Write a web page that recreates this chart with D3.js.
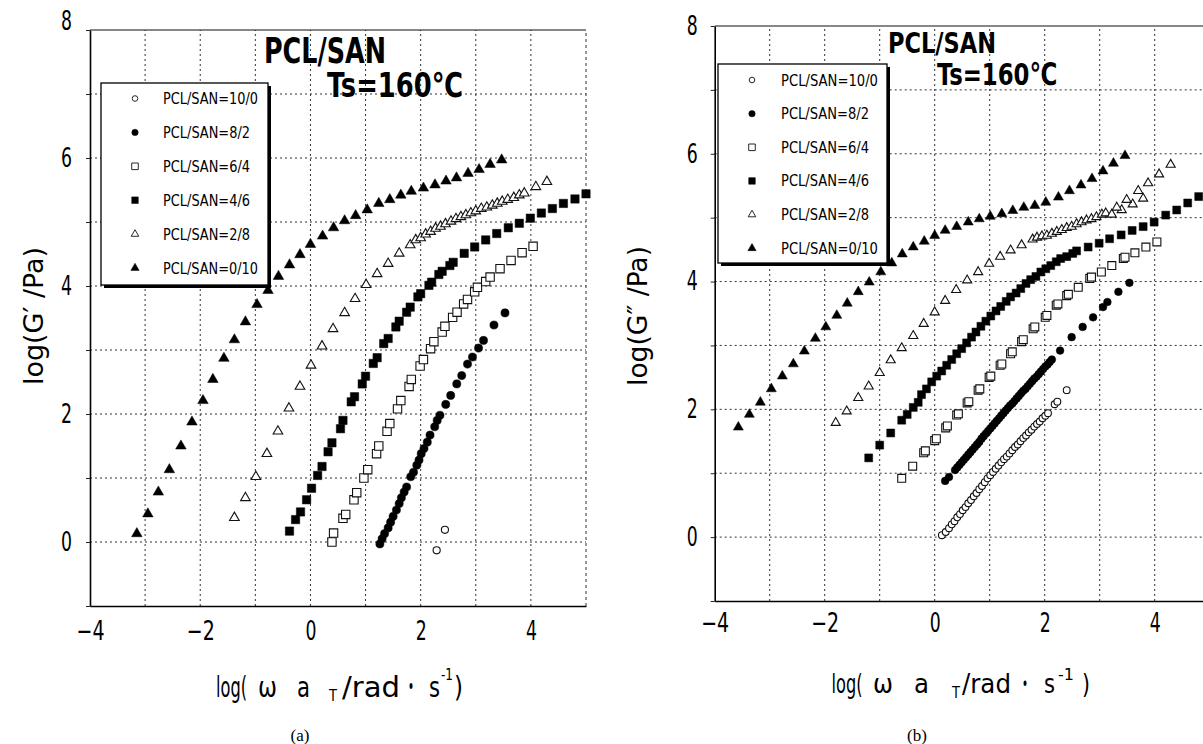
<!DOCTYPE html>
<html>
<head>
<meta charset="utf-8">
<script src="https://cdnjs.cloudflare.com/ajax/libs/d3/7.8.5/d3.min.js"></script>
<style>
  body { margin: 0; background: #fff; }
  svg { display: block; }
</style>
</head>
<body>
<div id="chart"></div>
<script>

const WIDTH = 1203;
const HEIGHT = 744;

const FONT = "'Liberation Sans Narrow', 'DejaVu Sans Condensed', 'Liberation Sans', Arial, sans-serif";

// Legend / series names, same order in both panels.
const legendLabels = ["PCL/SAN=10/0", "PCL/SAN=8/2", "PCL/SAN=6/4",
                      "PCL/SAN=4/6", "PCL/SAN=2/8", "PCL/SAN=0/10"];
const markerKinds = ["circle", "circle", "square", "square", "triangle", "triangle"];
const markerFilled = [false, true, false, true, false, true];

const xTickValues = [-4, -2, 0, 2, 4];
const yTickValues = [0, 2, 4, 6, 8];

// (a) log G' vs log(w aT)
const gp_10_0 = [[2.29, -0.13], [2.44, 0.19]];
const gp_8_2 = [[1.26, -0.03], [1.30, 0.05], [1.345, 0.13], [1.41, 0.22], [1.455, 0.31], [1.50, 0.40],
  [1.56, 0.50], [1.61, 0.60], [1.65, 0.69], [1.70, 0.78], [1.745, 0.86], [1.82, 1.02], [1.87, 1.09],
  [1.93, 1.20], [1.97, 1.28], [2.01, 1.38], [2.06, 1.46], [2.12, 1.56], [2.17, 1.67], [2.255, 1.80],
  [2.30, 1.90], [2.35, 1.98], [2.455, 2.15], [2.545, 2.29], [2.655, 2.47], [2.745, 2.60], [2.85, 2.78],
  [2.94, 2.89], [3.05, 3.03], [3.14, 3.15], [3.33, 3.39], [3.53, 3.58]];
const gp_6_4 = [[0.39, 0.0], [0.42, 0.14], [0.59, 0.37], [0.64, 0.43], [0.79, 0.66], [0.84, 0.77],
  [0.97, 1.0], [1.04, 1.13], [1.2, 1.38], [1.24, 1.50], [1.39, 1.73], [1.44, 1.85], [1.58, 2.08],
  [1.64, 2.21], [1.79, 2.43], [1.83, 2.54], [1.99, 2.75], [2.05, 2.85], [2.18, 3.02], [2.24, 3.13],
  [2.39, 3.28], [2.44, 3.37], [2.58, 3.51], [2.66, 3.59], [2.78, 3.72], [2.85, 3.79], [2.98, 3.91],
  [3.03, 3.98], [3.18, 4.07], [3.26, 4.14], [3.44, 4.27], [3.64, 4.40], [3.84, 4.52], [4.04, 4.62]];
const gp_4_6 = [[-0.38, 0.17], [-0.27, 0.35], [-0.18, 0.47], [-0.07, 0.66], [0.02, 0.84], [0.13, 1.04],
  [0.21, 1.18], [0.32, 1.41], [0.39, 1.55], [0.545, 1.77], [0.59, 1.90], [0.74, 2.19], [0.80, 2.27],
  [0.94, 2.47], [1.0, 2.59], [1.14, 2.79], [1.21, 2.88], [1.33, 3.10], [1.41, 3.18], [1.55, 3.36],
  [1.61, 3.45], [1.745, 3.59], [1.81, 3.67], [1.95, 3.83], [2.0, 3.88], [2.15, 4.01], [2.20, 4.06],
  [2.33, 4.18], [2.39, 4.23], [2.53, 4.32], [2.59, 4.37], [2.79, 4.51], [2.98, 4.61], [3.18, 4.72],
  [3.38, 4.82], [3.59, 4.91], [3.79, 4.98], [3.99, 5.06], [4.19, 5.14], [4.39, 5.21], [4.59, 5.29],
  [4.80, 5.36], [5.0, 5.44]];
const gp_2_8 = [[-1.38, 0.38], [-1.18, 0.69], [-0.99, 1.02], [-0.79, 1.38], [-0.59, 1.73], [-0.39, 2.09],
  [-0.19, 2.43], [0.01, 2.76], [0.21, 3.06], [0.41, 3.33], [0.62, 3.58], [0.81, 3.80], [1.01, 4.02],
  [1.21, 4.19], [1.41, 4.35], [1.61, 4.51], [1.81, 4.64], [1.91, 4.72], [2.0, 4.75], [2.09, 4.81],
  [2.18, 4.85], [2.27, 4.90], [2.36, 4.93], [2.45, 4.97], [2.55, 5.01], [2.64, 5.05], [2.73, 5.08],
  [2.82, 5.11], [2.91, 5.14], [3.0, 5.17], [3.10, 5.21], [3.20, 5.23], [3.30, 5.26], [3.39, 5.29],
  [3.48, 5.32], [3.58, 5.35], [3.69, 5.38], [3.79, 5.42], [3.88, 5.45], [4.09, 5.55], [4.29, 5.63]];
const gp_0_10 = [[-3.15, 0.13], [-2.95, 0.44], [-2.76, 0.78], [-2.56, 1.13], [-2.35, 1.50], [-2.15, 1.875],
  [-1.95, 2.21], [-1.77, 2.54], [-1.57, 2.87], [-1.38, 3.16], [-1.18, 3.44], [-0.97, 3.71], [-0.77, 3.93],
  [-0.58, 4.15], [-0.38, 4.33], [-0.19, 4.49], [0.0, 4.65], [0.22, 4.78], [0.42, 4.91], [0.62, 5.02],
  [0.82, 5.10], [1.03, 5.19], [1.24, 5.29], [1.44, 5.35], [1.64, 5.42], [1.83, 5.48], [2.05, 5.53],
  [2.26, 5.58], [2.46, 5.64], [2.65, 5.69], [2.86, 5.76], [3.06, 5.82], [3.26, 5.90], [3.47, 5.97]];

// (b) log G'' vs log(w aT)
const gpp_10_0 = [[0.13, 0.03], [0.20, 0.08], [0.26, 0.14], [0.31, 0.20], [0.36, 0.25], [0.41, 0.31],
  [0.46, 0.36], [0.51, 0.42], [0.56, 0.47], [0.61, 0.53], [0.66, 0.58], [0.71, 0.64], [0.76, 0.69],
  [0.81, 0.75], [0.86, 0.80], [0.91, 0.86], [0.96, 0.92], [1.01, 0.97], [1.06, 1.02], [1.11, 1.07],
  [1.16, 1.12], [1.21, 1.17], [1.26, 1.22], [1.31, 1.26], [1.36, 1.31], [1.41, 1.36], [1.46, 1.41],
  [1.51, 1.45], [1.56, 1.50], [1.61, 1.55], [1.66, 1.59], [1.71, 1.64], [1.76, 1.68], [1.81, 1.73],
  [1.86, 1.77], [1.91, 1.81], [1.96, 1.86], [2.01, 1.90], [2.06, 1.94], [2.18, 2.08], [2.23, 2.12],
  [2.40, 2.30]];
const gpp_8_2 = [[0.19, 0.88], [0.26, 0.94], [0.37, 1.05], [0.41, 1.09], [0.45, 1.13], [0.49, 1.17],
  [0.53, 1.21], [0.57, 1.25], [0.61, 1.29], [0.65, 1.33], [0.69, 1.37], [0.73, 1.41], [0.77, 1.45],
  [0.81, 1.49], [0.85, 1.54], [0.89, 1.58], [0.93, 1.62], [0.97, 1.66], [1.01, 1.70], [1.05, 1.74],
  [1.09, 1.78], [1.13, 1.82], [1.17, 1.86], [1.21, 1.90], [1.25, 1.94], [1.29, 1.98], [1.33, 2.02],
  [1.37, 2.06], [1.41, 2.09], [1.45, 2.13], [1.49, 2.17], [1.53, 2.21], [1.57, 2.25], [1.61, 2.29],
  [1.65, 2.32], [1.69, 2.36], [1.73, 2.40], [1.77, 2.44], [1.81, 2.48], [1.85, 2.51], [1.89, 2.55],
  [1.93, 2.59], [1.97, 2.63], [2.01, 2.67], [2.05, 2.70], [2.09, 2.74], [2.13, 2.78], [2.28, 2.92],
  [2.49, 3.13], [2.69, 3.29], [2.88, 3.44], [3.06, 3.60], [3.14, 3.68], [3.34, 3.84], [3.54, 3.98]];
const gpp_6_4 = [[-0.60, 0.92], [-0.40, 1.11], [-0.20, 1.32], [-0.17, 1.35], [0.0, 1.51], [0.03, 1.54],
  [0.20, 1.71], [0.23, 1.74], [0.40, 1.91], [0.43, 1.93], [0.59, 2.10], [0.62, 2.12], [0.79, 2.30],
  [0.82, 2.32], [0.99, 2.50], [1.02, 2.52], [1.19, 2.69], [1.22, 2.71], [1.38, 2.87], [1.41, 2.90],
  [1.58, 3.06], [1.61, 3.09], [1.79, 3.26], [1.82, 3.29], [2.01, 3.44], [2.04, 3.47], [2.21, 3.63],
  [2.24, 3.65], [2.40, 3.78], [2.43, 3.80], [2.61, 3.91], [2.82, 4.05], [2.85, 4.07], [3.03, 4.15],
  [3.22, 4.25], [3.43, 4.36], [3.46, 4.38], [3.64, 4.45], [3.84, 4.54], [4.04, 4.62]];
const gpp_4_6 = [[-1.20, 1.24], [-1.0, 1.44], [-0.80, 1.63], [-0.60, 1.83], [-0.50, 1.92], [-0.39, 2.03],
  [-0.30, 2.11], [-0.24, 2.23], [-0.15, 2.32], [-0.055, 2.43], [0.036, 2.52], [0.127, 2.60], [0.218, 2.69],
  [0.309, 2.78], [0.40, 2.87], [0.49, 2.95], [0.58, 3.04], [0.67, 3.13], [0.75, 3.21], [0.84, 3.30],
  [0.93, 3.38], [1.02, 3.46], [1.115, 3.54], [1.2, 3.61], [1.30, 3.69], [1.38, 3.76], [1.48, 3.82],
  [1.565, 3.89], [1.66, 3.97], [1.745, 4.03], [1.84, 4.08], [1.93, 4.15], [2.02, 4.20], [2.11, 4.25],
  [2.21, 4.31], [2.29, 4.36], [2.40, 4.39], [2.51, 4.44], [2.58, 4.48], [2.79, 4.54], [2.99, 4.60],
  [3.18, 4.67], [3.39, 4.73], [3.59, 4.80], [3.79, 4.86], [3.99, 4.93], [4.20, 5.04], [4.40, 5.12],
  [4.60, 5.23], [4.80, 5.33]];
const gpp_2_8 = [[-1.80, 1.79], [-1.60, 1.97], [-1.39, 2.18], [-1.20, 2.36], [-1.0, 2.57], [-0.80, 2.77],
  [-0.60, 2.96], [-0.39, 3.15], [-0.20, 3.34], [0.0, 3.52], [0.19, 3.70], [0.39, 3.87], [0.59, 4.02],
  [0.79, 4.15], [0.99, 4.28], [1.19, 4.39], [1.38, 4.49], [1.58, 4.57], [1.78, 4.66], [1.86, 4.69],
  [1.95, 4.71], [2.04, 4.72], [2.13, 4.75], [2.22, 4.78], [2.31, 4.81], [2.40, 4.84], [2.49, 4.86],
  [2.58, 4.90], [2.67, 4.93], [2.76, 4.96], [2.85, 4.98], [2.94, 5.01], [3.04, 5.05], [3.11, 5.07],
  [3.22, 5.05], [3.40, 5.12], [3.60, 5.21], [3.79, 5.30],
  [3.31, 5.16], [3.49, 5.28], [3.70, 5.42], [3.88, 5.54], [4.08, 5.68], [4.29, 5.83]];
const gpp_0_10 = [[-3.57, 1.72], [-3.37, 1.92], [-3.17, 2.11], [-2.97, 2.32], [-2.77, 2.52], [-2.57, 2.71],
  [-2.37, 2.91], [-2.17, 3.11], [-1.98, 3.29], [-1.78, 3.47], [-1.59, 3.66], [-1.39, 3.84], [-1.19, 3.99],
  [-0.98, 4.15], [-0.78, 4.29], [-0.59, 4.43], [-0.39, 4.54], [-0.19, 4.63], [0.0, 4.72], [0.19, 4.80],
  [0.40, 4.86], [0.61, 4.93], [0.81, 4.98], [1.01, 5.02], [1.22, 5.06], [1.42, 5.11], [1.62, 5.16],
  [1.82, 5.19], [2.02, 5.24], [2.25, 5.32], [2.45, 5.42], [2.66, 5.51], [2.86, 5.61], [3.06, 5.73],
  [3.25, 5.85], [3.46, 5.97]];

const panelA = {
  series: [gp_10_0, gp_8_2, gp_6_4, gp_4_6, gp_2_8, gp_0_10],
  left: 90, right: 586, top: 30, bottom: 606,
  yLabel: "log(G\u2032  /Pa)", yLabelX: 43, yLabelLen: 138,
  yTickPad: 18, xTickPad: 16, topLabelShift: -9, tickFont: 26,
  legend: {x: 101, y: 83, w: 167, h: 202, row0: 98.5, step: 33.9, symX: 135, textX: 163, len12: 95, len11: 87},
  title: [{t: "PCL/SAN", x: 264, y: 63, size: 36, len: 122},
          {t: "Ts=160\u2103", x: 327, y: 97, size: 34, len: 136}],
  xLabel: {base: 697, size: 28, sub: 701, sup: 680,
    parts: [["log(", 216, 31], ["\u03c9", 258, 19], ["a", 297, 13], ["T", 329, 8, "sub"], ["/rad", 342, 58],
            ["\u30fb", 404, 14], ["s", 429, 11], ["-1", 441, 12, "sup"], [")", 454, 9]]},
  panelName: {t: "(a)", x: 300, y: 741},
  size: 1
};

const panelB = {
  series: [gpp_10_0, gpp_8_2, gpp_6_4, gpp_4_6, gpp_2_8, gpp_0_10],
  left: 714.7, right: 1209.7, top: 26, bottom: 601,
  yLabel: "log(G\u2033  /Pa)", yLabelX: 647, yLabelLen: 140,
  yTickPad: 17, xTickPad: 13, topLabelShift: 0, tickFont: 26,
  legend: {x: 718, y: 64, w: 169, h: 199, row0: 80, step: 33.65, symX: 752, textX: 781, len12: 97, len11: 88},
  title: [{t: "PCL/SAN", x: 888, y: 53, size: 29, len: 108},
          {t: "Ts=160\u2103", x: 937, y: 85, size: 31, len: 120}],
  xLabel: {base: 693, size: 26, sub: 698, sup: 680,
    parts: [["log(", 831.5, 31], ["\u03c9", 873, 20], ["a", 914, 15], ["T", 952, 8, "sub"], ["/rad", 962, 49],
            ["\u30fb", 1018, 14], ["s", 1044, 11], ["-1", 1058, 16, "sup"], [")", 1082, 8]]},
  panelName: {t: "(b)", x: 917, y: 741},
  size: 0.9
};

const svg = d3.select("#chart").append("svg")
  .attr("width", WIDTH)
  .attr("height", HEIGHT);

drawPanel(panelA);
drawPanel(panelB);

function markerPath(i, scale) {
  const kind = markerKinds[i];
  let type = d3.symbolCircle, area = 52;
  if (kind === "square") { type = d3.symbolSquare; area = 70; }
  if (kind === "triangle") { type = d3.symbolTriangle; area = markerFilled[i] ? 48 : 40; }
  if (kind === "circle" && !markerFilled[i]) area = 40;
  return d3.symbol().type(type).size(area * scale)();
}

function styleMarker(sel, i) {
  if (markerFilled[i]) {
    sel.attr("fill", "#000").attr("stroke", "#000").attr("stroke-width", 0.5);
  } else {
    sel.attr("fill", "#fff").attr("stroke", "#111").attr("stroke-width", 1.1);
  }
}

function drawPanel(p) {
  const x = d3.scaleLinear().domain([-4, 5]).range([p.left, p.right]);
  const y = d3.scaleLinear().domain([-1, 8]).range([p.bottom, p.top]);

  const g = svg.append("g");

  // dotted grid at every unit
  g.selectAll(".vgrid").data(d3.range(-3, 5)).enter().append("line")
    .attr("x1", d => x(d)).attr("x2", d => x(d))
    .attr("y1", y(-1)).attr("y2", y(8))
    .attr("stroke", "#333").attr("stroke-width", 1).attr("stroke-dasharray", "2,3");
  g.selectAll(".hgrid").data(d3.range(0, 8)).enter().append("line")
    .attr("x1", x(-4)).attr("x2", x(5))
    .attr("y1", d => y(d)).attr("y2", d => y(d))
    .attr("stroke", "#333").attr("stroke-width", 1).attr("stroke-dasharray", "2,3");

  // frame
  g.append("line").attr("x1", x(5)).attr("x2", x(5)).attr("y1", y(-1)).attr("y2", y(8))
    .attr("stroke", "#333").attr("stroke-dasharray", "3,3");
  g.append("line").attr("x1", x(-4)).attr("x2", x(5)).attr("y1", y(8)).attr("y2", y(8))
    .attr("stroke", "#111").attr("stroke-width", 1.2);

  // small ticks on the left axis
  g.append("g")
    .attr("transform", "translate(" + x(-4) + ",0)")
    .call(d3.axisLeft(y).ticks(9).tickSize(4).tickFormat(""))
    .call(a => a.select(".domain").remove())
    .selectAll("line").attr("stroke", "#222");

  const yAxis = g.append("g")
    .attr("transform", "translate(" + x(-4) + ",0)")
    .call(d3.axisLeft(y).tickValues(yTickValues).tickSize(0).tickPadding(p.yTickPad));
  yAxis.select(".domain").attr("stroke", "#000").attr("stroke-width", 1.6);
  yAxis.selectAll("text")
    .attr("font-family", FONT).attr("font-size", p.tickFont).attr("fill", "#000")
    .attr("textLength", 11).attr("lengthAdjust", "spacingAndGlyphs")
    .attr("dy", d => d === 8 ? (0.32 * p.tickFont + p.topLabelShift) + "px" : "0.32em");

  const xAxis = g.append("g")
    .attr("transform", "translate(0," + y(-1) + ")")
    .call(d3.axisBottom(x).tickValues(xTickValues).tickSize(0).tickPadding(p.xTickPad));
  xAxis.select(".domain").attr("stroke", "#000").attr("stroke-width", 1.6);
  xAxis.selectAll("text")
    .attr("font-family", FONT).attr("font-size", p.tickFont).attr("fill", "#000")
    .attr("textLength", d => d < 0 ? 28 : 11).attr("lengthAdjust", "spacingAndGlyphs");

  // data
  p.series.forEach((data, i) => {
    const pts = g.append("g").selectAll("path").data(data).enter().append("path")
      .attr("d", markerPath(i, p.size))
      .attr("transform", d => "translate(" + x(d[0]) + "," + y(d[1]) + ")");
    styleMarker(pts, i);
  });

  // legend
  const L = p.legend;
  g.append("rect").attr("x", L.x + 3).attr("y", L.y + 3).attr("width", L.w).attr("height", L.h)
    .attr("fill", "#000");
  g.append("rect").attr("x", L.x).attr("y", L.y).attr("width", L.w).attr("height", L.h)
    .attr("fill", "#fff").attr("stroke", "#000").attr("stroke-width", 1.3);
  legendLabels.forEach((lab, i) => {
    const cy = L.row0 + i * L.step;
    const m = g.append("path").attr("d", markerPath(i, 0.62))
      .attr("transform", "translate(" + L.symX + "," + cy + ")");
    styleMarker(m, i);
    m.attr("stroke-width", markerFilled[i] ? 0.5 : 0.9);
    g.append("text").attr("x", L.textX).attr("y", cy + 5.5)
      .attr("font-family", FONT).attr("font-size", 15)
      .attr("textLength", lab.length === 12 ? L.len12 : L.len11)
      .attr("lengthAdjust", "spacingAndGlyphs")
      .text(lab);
  });

  // title inside the plot
  p.title.forEach(t => {
    g.append("text").attr("x", t.x).attr("y", t.y)
      .attr("font-family", FONT).attr("font-size", t.size).attr("font-weight", "bold")
      .attr("textLength", t.len).attr("lengthAdjust", "spacingAndGlyphs")
      .text(t.t);
  });

  // y label
  g.append("text")
    .attr("transform", "translate(" + p.yLabelX + "," + 316 + ") rotate(-90)")
    .attr("text-anchor", "middle")
    .attr("font-family", FONT).attr("font-size", 26)
    .attr("textLength", p.yLabelLen).attr("lengthAdjust", "spacingAndGlyphs")
    .text(p.yLabel);

  // x label, piece by piece (wide spacing in the original);
  // each piece is squeezed horizontally to its measured width
  const XL = p.xLabel;
  XL.parts.forEach(pt => {
    const kind = pt[3];
    const yy = kind === "sub" ? XL.sub : kind === "sup" ? XL.sup : XL.base;
    const t = g.append("text")
      .attr("x", 0).attr("y", 0)
      .attr("font-family", pt[0] === "\u30fb" ? "'Noto Sans CJK JP', sans-serif" : FONT)
      .attr("font-size", kind ? 15 : XL.size)
      .text(pt[0]);
    const natural = t.node().getComputedTextLength() || pt[2];
    t.attr("transform", "translate(" + pt[1] + "," + yy + ") scale(" + (pt[2] / natural) + ",1)");
  });

  g.append("text").attr("x", p.panelName.x).attr("y", p.panelName.y)
    .attr("text-anchor", "middle")
    .attr("font-family", "'Liberation Serif', 'DejaVu Serif', serif").attr("font-size", 17)
    .text(p.panelName.t);
}

</script>
</body>
</html>
